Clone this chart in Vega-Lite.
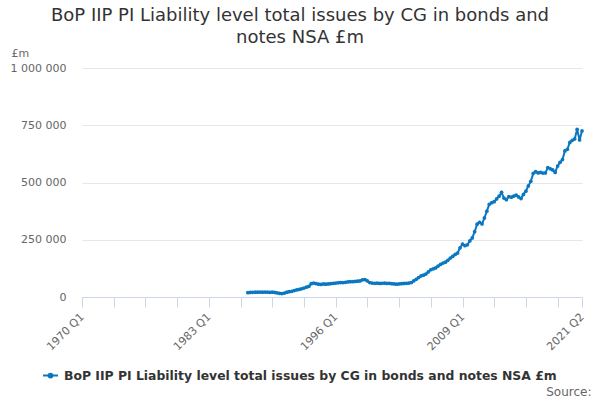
{
  "$schema": "https://vega.github.io/schema/vega-lite/v6.json",
  "width": 500,
  "height": 229,
  "autosize": "none",
  "padding": {"left": 82, "top": 68, "right": 18, "bottom": 103},
  "title": {
    "text": ["BoP IIP PI Liability level total issues by CG in bonds and", "notes NSA £m"],
    "anchor": "middle",
    "dx": -32,
    "dy": 6,
    "font": "DejaVu Sans",
    "fontSize": 18,
    "fontWeight": "normal",
    "color": "#333333",
    "lineHeight": 22,
    "offset": 6
  },
  "data": {
    "values": [
      {"date": "1987-01-01", "value": 19000}, {"date": "1987-04-01", "value": 20000}, {"date": "1987-07-01", "value": 20500}, {"date": "1987-10-01", "value": 21000},
      {"date": "1988-01-01", "value": 21000}, {"date": "1988-04-01", "value": 21500}, {"date": "1988-07-01", "value": 21000}, {"date": "1988-10-01", "value": 21500},
      {"date": "1989-01-01", "value": 21000}, {"date": "1989-04-01", "value": 20500}, {"date": "1989-07-01", "value": 21000}, {"date": "1989-10-01", "value": 20000},
      {"date": "1990-01-01", "value": 18000}, {"date": "1990-04-01", "value": 16000}, {"date": "1990-07-01", "value": 15000}, {"date": "1990-10-01", "value": 17000},
      {"date": "1991-01-01", "value": 21000}, {"date": "1991-04-01", "value": 23000}, {"date": "1991-07-01", "value": 25000}, {"date": "1991-10-01", "value": 28000},
      {"date": "1992-01-01", "value": 31000}, {"date": "1992-04-01", "value": 33000}, {"date": "1992-07-01", "value": 36000}, {"date": "1992-10-01", "value": 39000},
      {"date": "1993-01-01", "value": 43000}, {"date": "1993-04-01", "value": 46000}, {"date": "1993-07-01", "value": 58000}, {"date": "1993-10-01", "value": 61000},
      {"date": "1994-01-01", "value": 58000}, {"date": "1994-04-01", "value": 56000}, {"date": "1994-07-01", "value": 55000}, {"date": "1994-10-01", "value": 57000},
      {"date": "1995-01-01", "value": 56000}, {"date": "1995-04-01", "value": 57000}, {"date": "1995-07-01", "value": 58000}, {"date": "1995-10-01", "value": 60000},
      {"date": "1996-01-01", "value": 61000}, {"date": "1996-04-01", "value": 62000}, {"date": "1996-07-01", "value": 63000}, {"date": "1996-10-01", "value": 63000},
      {"date": "1997-01-01", "value": 64000}, {"date": "1997-04-01", "value": 66000}, {"date": "1997-07-01", "value": 67000}, {"date": "1997-10-01", "value": 67000},
      {"date": "1998-01-01", "value": 68000}, {"date": "1998-04-01", "value": 69000}, {"date": "1998-07-01", "value": 70000}, {"date": "1998-10-01", "value": 75000},
      {"date": "1999-01-01", "value": 76000}, {"date": "1999-04-01", "value": 70000}, {"date": "1999-07-01", "value": 63000}, {"date": "1999-10-01", "value": 61000},
      {"date": "2000-01-01", "value": 60000}, {"date": "2000-04-01", "value": 61000}, {"date": "2000-07-01", "value": 59000}, {"date": "2000-10-01", "value": 60000},
      {"date": "2001-01-01", "value": 61000}, {"date": "2001-04-01", "value": 59000}, {"date": "2001-07-01", "value": 60000}, {"date": "2001-10-01", "value": 58000},
      {"date": "2002-01-01", "value": 57000}, {"date": "2002-04-01", "value": 56000}, {"date": "2002-07-01", "value": 57000}, {"date": "2002-10-01", "value": 58000},
      {"date": "2003-01-01", "value": 59000}, {"date": "2003-04-01", "value": 60000}, {"date": "2003-07-01", "value": 61000}, {"date": "2003-10-01", "value": 63000},
      {"date": "2004-01-01", "value": 70000}, {"date": "2004-04-01", "value": 77000}, {"date": "2004-07-01", "value": 85000}, {"date": "2004-10-01", "value": 92000},
      {"date": "2005-01-01", "value": 95000}, {"date": "2005-04-01", "value": 100000}, {"date": "2005-07-01", "value": 110000}, {"date": "2005-10-01", "value": 119000},
      {"date": "2006-01-01", "value": 123000}, {"date": "2006-04-01", "value": 127000}, {"date": "2006-07-01", "value": 135000}, {"date": "2006-10-01", "value": 142000},
      {"date": "2007-01-01", "value": 148000}, {"date": "2007-04-01", "value": 152000}, {"date": "2007-07-01", "value": 160000}, {"date": "2007-10-01", "value": 170000},
      {"date": "2008-01-01", "value": 177000}, {"date": "2008-04-01", "value": 186000}, {"date": "2008-07-01", "value": 192000}, {"date": "2008-10-01", "value": 215000},
      {"date": "2009-01-01", "value": 231000}, {"date": "2009-04-01", "value": 224000}, {"date": "2009-07-01", "value": 228000}, {"date": "2009-10-01", "value": 245000},
      {"date": "2010-01-01", "value": 258000}, {"date": "2010-04-01", "value": 285000}, {"date": "2010-07-01", "value": 318000}, {"date": "2010-10-01", "value": 326000},
      {"date": "2011-01-01", "value": 319000}, {"date": "2011-04-01", "value": 345000}, {"date": "2011-07-01", "value": 375000}, {"date": "2011-10-01", "value": 405000},
      {"date": "2012-01-01", "value": 412000}, {"date": "2012-04-01", "value": 416000}, {"date": "2012-07-01", "value": 428000}, {"date": "2012-10-01", "value": 440000},
      {"date": "2013-01-01", "value": 457000}, {"date": "2013-04-01", "value": 432000}, {"date": "2013-07-01", "value": 425000}, {"date": "2013-10-01", "value": 438000},
      {"date": "2014-01-01", "value": 436000}, {"date": "2014-04-01", "value": 440000}, {"date": "2014-07-01", "value": 445000}, {"date": "2014-10-01", "value": 437000},
      {"date": "2015-01-01", "value": 430000}, {"date": "2015-04-01", "value": 448000}, {"date": "2015-07-01", "value": 462000}, {"date": "2015-10-01", "value": 485000},
      {"date": "2016-01-01", "value": 505000}, {"date": "2016-04-01", "value": 540000}, {"date": "2016-07-01", "value": 547000}, {"date": "2016-10-01", "value": 542000},
      {"date": "2017-01-01", "value": 544000}, {"date": "2017-04-01", "value": 541000}, {"date": "2017-07-01", "value": 542000}, {"date": "2017-10-01", "value": 565000},
      {"date": "2018-01-01", "value": 560000}, {"date": "2018-04-01", "value": 555000}, {"date": "2018-07-01", "value": 544000}, {"date": "2018-10-01", "value": 572000},
      {"date": "2019-01-01", "value": 588000}, {"date": "2019-04-01", "value": 600000}, {"date": "2019-07-01", "value": 638000}, {"date": "2019-10-01", "value": 645000},
      {"date": "2020-01-01", "value": 675000}, {"date": "2020-04-01", "value": 684000}, {"date": "2020-07-01", "value": 690000}, {"date": "2020-10-01", "value": 732000},
      {"date": "2021-01-01", "value": 686000}, {"date": "2021-04-01", "value": 725000}
    ]
  },
  "mark": {
    "type": "line",
    "strokeWidth": 2,
    "point": {"filled": true, "size": 14}
  },
  "encoding": {
    "x": {
      "field": "date",
      "type": "temporal",
      "scale": {
        "domain": [
          {"year": 1970, "month": 1, "date": 1, "utc": true},
          {"year": 2021, "month": 4, "date": 1, "utc": true}
        ],
        "nice": false
      },
      "axis": {
        "title": "Source:",
        "titleAnchor": "end",
        "titleAlign": "right",
        "titleBaseline": "alphabetic",
        "titleX": 509,
        "titleY": 98,
        "titleFont": "DejaVu Sans",
        "titleFontSize": 12,
        "titleFontWeight": "normal",
        "titleColor": "#666666",
        "values": [
          {"year": 1970, "month": 1, "date": 1, "utc": true},
          {"year": 1973, "month": 4, "date": 1, "utc": true},
          {"year": 1976, "month": 7, "date": 1, "utc": true},
          {"year": 1979, "month": 10, "date": 1, "utc": true},
          {"year": 1983, "month": 1, "date": 1, "utc": true},
          {"year": 1986, "month": 4, "date": 1, "utc": true},
          {"year": 1989, "month": 7, "date": 1, "utc": true},
          {"year": 1992, "month": 10, "date": 1, "utc": true},
          {"year": 1996, "month": 1, "date": 1, "utc": true},
          {"year": 1999, "month": 4, "date": 1, "utc": true},
          {"year": 2002, "month": 7, "date": 1, "utc": true},
          {"year": 2005, "month": 10, "date": 1, "utc": true},
          {"year": 2009, "month": 1, "date": 1, "utc": true},
          {"year": 2012, "month": 4, "date": 1, "utc": true},
          {"year": 2015, "month": 7, "date": 1, "utc": true},
          {"year": 2018, "month": 10, "date": 1, "utc": true},
          {"year": 2021, "month": 4, "date": 1, "utc": true}
        ],
        "labelExpr": "(utcmonth(datum.value) == 0 && indexof([1970, 1983, 1996, 2009], utcyear(datum.value)) >= 0) || utcyear(datum.value) == 2021 ? utcyear(datum.value) + ' Q' + (floor(utcmonth(datum.value) / 3) + 1) : ''",
        "labelAngle": -45,
        "labelAlign": "right",
        "labelBaseline": "middle",
        "labelPadding": 8,
        "labelFont": "DejaVu Sans",
        "labelFontSize": 11,
        "labelColor": "#666666",
        "labelOverlap": false,
        "labelFlush": false,
        "grid": false,
        "domainColor": "#ccd6eb",
        "tickColor": "#ccd6eb",
        "tickSize": 10
      }
    },
    "y": {
      "field": "value",
      "type": "quantitative",
      "scale": {"domain": [0, 1000000], "nice": false},
      "axis": {
        "title": "£m",
        "titleAngle": 0,
        "titleAlign": "left",
        "titleBaseline": "alphabetic",
        "titleX": -71,
        "titleY": -12,
        "titleFont": "DejaVu Sans",
        "titleFontSize": 11,
        "titleFontWeight": "normal",
        "titleColor": "#666666",
        "values": [0, 250000, 500000, 750000, 1000000],
        "format": ",d",
        "labelFont": "DejaVu Sans",
        "labelFontSize": 11,
        "labelColor": "#666666",
        "labelPadding": 16,
        "domain": false,
        "ticks": false,
        "gridColor": "#e6e6e6"
      }
    },
    "color": {
      "datum": "BoP IIP PI Liability level total issues by CG in bonds and notes NSA £m",
      "type": "nominal",
      "scale": {"range": ["#0a78c0"]},
      "legend": {
        "title": null,
        "orient": "none",
        "legendX": -40,
        "legendY": 299,
        "symbolType": "M-1,0L1,0M-0.25,0A0.25,0.25 0 1,1 0.25,0A0.25,0.25 0 1,1 -0.25,0",
        "symbolSize": 225,
        "symbolStrokeWidth": 2,
        "symbolFillColor": "#0a78c0",
        "symbolStrokeColor": "#0a78c0",
        "labelFont": "DejaVu Sans",
        "labelFontSize": 12.4,
        "labelFontWeight": "bold",
        "labelColor": "#333333",
        "labelLimit": 600,
        "labelOffset": 5
      }
    }
  },
  "config": {
    "locale": {
      "number": {"decimal": ".", "thousands": " ", "grouping": [3], "currency": ["£", ""]}
    },
    "view": {"stroke": null}
  }
}
